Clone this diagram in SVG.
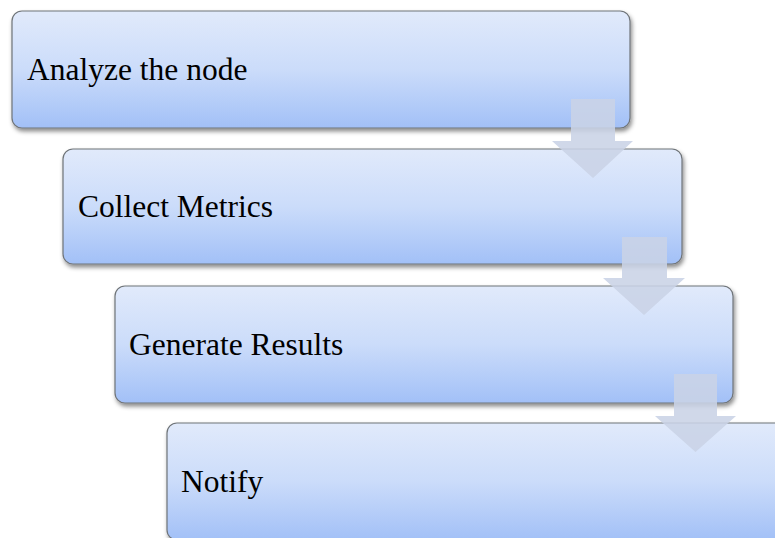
<svg xmlns="http://www.w3.org/2000/svg" width="775" height="538" viewBox="0 0 775 538">
<defs>
<linearGradient id="g" x1="0" y1="0" x2="0" y2="1">
<stop offset="0" stop-color="#e1eafb"/>
<stop offset="0.5" stop-color="#cbdcfa"/>
<stop offset="1" stop-color="#a2c0f7"/>
</linearGradient>
<filter id="sh" x="-5%" y="-10%" width="115%" height="130%">
<feDropShadow dx="1.5" dy="3" stdDeviation="2" flood-color="#000" flood-opacity="0.45"/>
</filter>
<style>
.box{fill:url(#g);stroke:#6f7479;stroke-width:1.2;filter:url(#sh)}
.lbl{font-family:"Liberation Serif","Times New Roman",serif;font-size:31.5px;fill:#000}
.arr{fill:#c9d3e6;fill-opacity:0.88}
</style>
</defs>
<g id="node1"><rect class="box" x="12" y="11" width="618" height="117" rx="10"/><text class="lbl" x="27" y="80">Analyze the node</text></g>
<g id="node2"><rect class="box" x="63" y="149" width="619" height="115" rx="10"/><text class="lbl" x="78" y="216.5">Collect Metrics</text></g>
<g id="node3"><rect class="box" x="115" y="286" width="618" height="117" rx="10"/><text class="lbl" x="129" y="355">Generate Results</text></g>
<g id="node4"><rect class="box" x="167" y="423" width="618" height="117" rx="10"/><text class="lbl" x="181" y="492">Notify</text></g>
<g id="connectors">
<polygon class="arr" points="571,99 615,99 615,141 633,141 593,178 552,141 571,141"/>
<polygon class="arr" points="622,237 667,237 667,278 685,278 644,315 603,278 622,278"/>
<polygon class="arr" points="674,374 717,374 717,416 736,416 695.5,452 655,416 674,416"/>
</g>
</svg>
